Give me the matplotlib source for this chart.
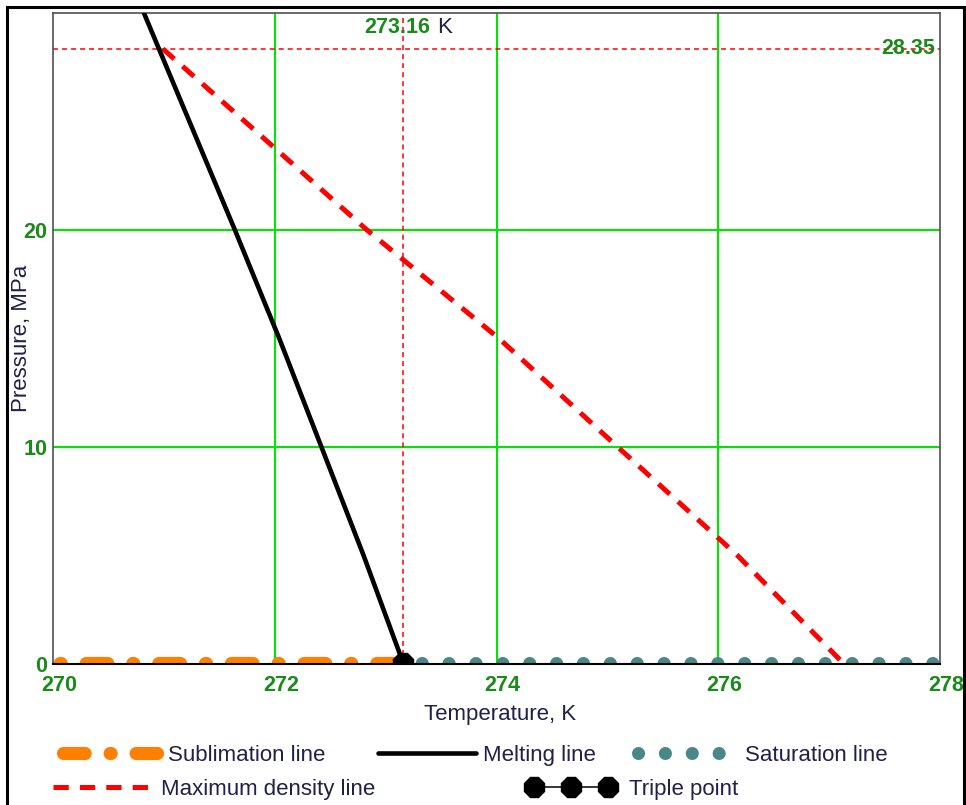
import matplotlib
matplotlib.use('Agg')
from matplotlib import pyplot as plt
from matplotlib.lines import Line2D
from matplotlib.patches import Rectangle
from matplotlib import transforms

plt.rcParams['font.family'] = ['Liberation Sans', 'DejaVu Sans']
plt.rcParams['lines.scale_dashes'] = False

# phase boundaries of water near the triple point (T in K, P in MPa)
sub_T = [270.0, 271.0, 272.0, 273.16]
sub_P = [0.000470, 0.000517, 0.000569, 0.000611]

sat_T = [273.16, 274.0, 276.0, 278.0]
sat_P = [0.000611, 0.000657, 0.000758, 0.000871]

melt_P = [0.000611, 5, 10, 15, 20, 25, 30]
melt_T = [273.16, 272.80, 272.42, 272.04, 271.64, 271.23, 270.82]

maxd_P = [28.35, 25, 20, 15, 10, 5, 0]
maxd_T = [270.99, 271.73, 272.83, 274.02, 275.09, 276.17, 277.13]

triple_T = 273.16
triple_P = 0.000611
maxd_P_top = 28.35

T_ticks = [270, 272, 274, 276, 278]
P_ticks = [0, 10, 20]
grid_T = [272, 274, 276]
grid_P = [10, 20]

W, H = 966, 805
green = '#1a8a1a'
navy = '#202048'
fs_px = 16 * 100 / 72

fig = plt.figure(figsize=(W / 100, H / 100), dpi=100)
ax = fig.add_axes([53 / W, 1 - 663.5 / H, 887 / W, 650.5 / H])
ax.set_xlim(270, 278)
ax.set_ylim(0, 30)

for t in grid_T:
    ax.axvline(t, color='#00e600', lw=1.5, zorder=0.5)
for p in grid_P:
    ax.axhline(p, color='#00e600', lw=1.5, zorder=0.5)

ref_style = dict(color='red', lw=1.1, linestyle=(0, (3.6, 2.9)), zorder=1)
ax.axvline(triple_T, **ref_style)
ax.axhline(maxd_P_top, **ref_style)

sub_style = dict(color='#ff8000', lw=9.5, dash_capstyle='round')
sub_dash = (15.6, 18, 0.7, 18)
sat_style = dict(color='#4a8787', lw=9.4, dash_capstyle='round')
sat_dash = (0.05, 19.3)
melt_style = dict(color='black', lw=3.3, solid_capstyle='round')
maxd_style = dict(color='red', lw=3.6, linestyle=(0, (11, 8)))
triple_style = dict(color='black', lw=1.1, marker='8', ms=16)

ax.plot(sub_T, sub_P, linestyle=(28.4, sub_dash), zorder=2, **sub_style)
ax.plot(sat_T, sat_P, linestyle=(5.8, sat_dash), zorder=2, **sat_style)
ax.plot(maxd_T, maxd_P, zorder=3, **maxd_style)
ax.plot(melt_T, melt_P, zorder=4, **melt_style)
ax.plot([triple_T], [triple_P], zorder=5, **triple_style)

# annotations of the reference lines
ax.text(273.40, 29.31, '273.16', ha='right', va='center', color=green,
        fontsize=15.5, fontweight='bold', zorder=6)
ax.text(273.46, 29.31, 'K', ha='left', va='center', color=navy,
        fontsize=16, zorder=6)
ax.text(0.994, maxd_P_top, '28.35', transform=ax.get_yaxis_transform(),
        ha='right', va='center', color=green, fontsize=15.5,
        fontweight='bold', zorder=6)

ax.set_xticks(T_ticks)
ax.set_yticks(P_ticks)
ax.tick_params(axis='x', length=0, pad=8, labelsize=15.5, labelcolor=green)
ax.tick_params(axis='y', length=0, pad=4, labelsize=15.5, labelcolor=green)
shift = transforms.ScaledTranslation(0.06, 0, fig.dpi_scale_trans)
for lab in ax.get_xticklabels():
    lab.set_fontweight('bold')
    lab.set_transform(lab.get_transform() + shift)
for lab in ax.get_yticklabels():
    lab.set_fontweight('bold')

for side in ['left', 'top', 'right']:
    ax.spines[side].set_color('#505050')
    ax.spines[side].set_linewidth(1.2)
ax.spines['bottom'].set_color('black')
ax.spines['bottom'].set_linewidth(1.5)

ax.set_xlabel('Temperature, K', fontsize=16, color=navy)
ax.xaxis.set_label_coords(0.504, -0.062)
ax.set_ylabel('Pressure, MPa', fontsize=16, color=navy)
ax.yaxis.set_label_coords(-0.024, 0.5)


def add_key(handle, label, x0, y0, width, text_x, numpoints=1):
    fig.legend([handle], [label], loc='center left',
               bbox_to_anchor=(x0 / W, 1 - y0 / H), frameon=False,
               borderpad=0, borderaxespad=0, fontsize=16, labelcolor=navy,
               handlelength=width / fs_px,
               handletextpad=(text_x - x0 - width) / fs_px,
               numpoints=numpoints)


add_key(Line2D([], [], linestyle=(0, sub_dash), **sub_style),
        'Sublimation line', 63, 755, 94, 168)
add_key(Line2D([], [], **melt_style), 'Melting line', 378, 755, 98, 483)
add_key(Line2D([], [], linestyle=(0, sat_dash), **sat_style),
        'Saturation line', 638, 755, 88, 745)
add_key(Line2D([], [], **maxd_style), 'Maximum density line', 53, 789, 100, 161)
add_key(Line2D([], [], **triple_style), 'Triple point', 527, 789, 88, 629,
        numpoints=3)

fig.add_artist(Rectangle((7 / W, -0.02), 957 / W, 1 - 7 / H + 0.02,
                         transform=fig.transFigure, fill=False,
                         ec='black', lw=2.2))

fig.savefig('out.png', dpi=100)
